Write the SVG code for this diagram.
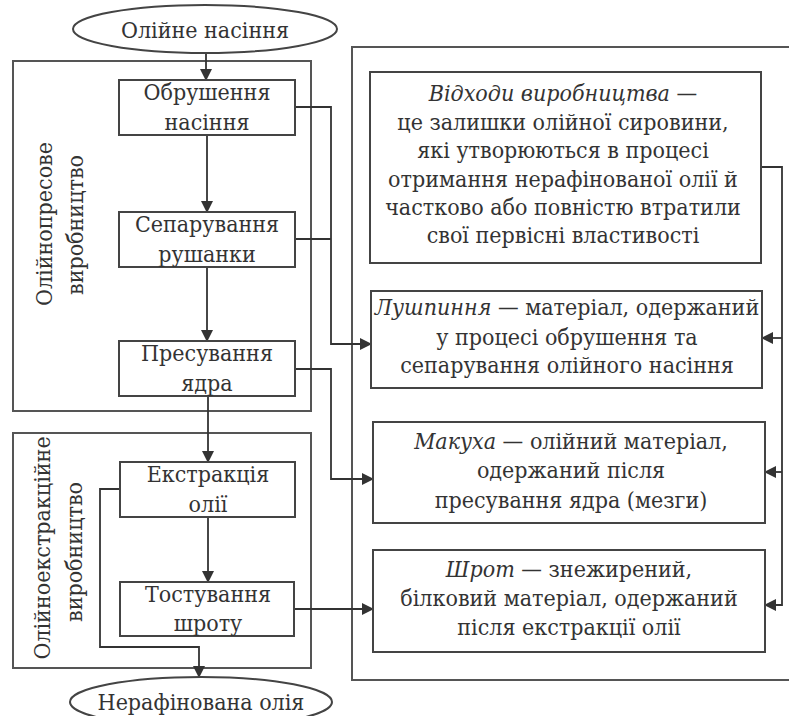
<svg xmlns="http://www.w3.org/2000/svg" width="789" height="716" viewBox="0 0 789 716">
<defs>
<marker id="arr" markerWidth="12" markerHeight="12" refX="11" refY="6" orient="auto" markerUnits="userSpaceOnUse">
<path d="M0,0 L12,6 L0,12 Z" fill="#333"/>
</marker>
<style>
.box{fill:none;stroke:#444;stroke-width:2}
.frame{fill:none;stroke:#555;stroke-width:2}
.ln{fill:none;stroke:#333;stroke-width:1.8}
.t{font-family:'DejaVu Serif Condensed','DejaVu Serif',serif;font-stretch:condensed;font-size:23px;fill:#333;text-anchor:middle}
.i{font-style:italic}
</style>
</defs>
<rect width="789" height="716" fill="#fff"/>
<g id="frame-press">
<rect class="frame" x="13" y="61" width="298" height="350"/>
<text class="t" transform="translate(52,224) rotate(-90)">Олійнопресове</text>
<text class="t" transform="translate(83,225) rotate(-90)">виробництво</text>
</g>
<g id="frame-extract">
<rect class="frame" x="13" y="433" width="298" height="235"/>
<text class="t" transform="translate(50,548) rotate(-90)">Олійноекстракційне</text>
<text class="t" transform="translate(82,552) rotate(-90)">виробництво</text>
</g>
<g id="frame-waste">
<rect class="frame" x="352" y="47" width="450" height="633"/>
</g>

<g id="connectors">
<line class="ln" x1="206" y1="53" x2="206" y2="80" marker-end="url(#arr)"/>
<line class="ln" x1="207" y1="135" x2="207" y2="212" marker-end="url(#arr)"/>
<line class="ln" x1="207" y1="267" x2="207" y2="341" marker-end="url(#arr)"/>
<line class="ln" x1="208" y1="396" x2="208" y2="462" marker-end="url(#arr)"/>
<line class="ln" x1="208" y1="517" x2="208" y2="582" marker-end="url(#arr)"/>
<polyline class="ln" points="295,107 331,107 331,344 371,344" marker-end="url(#arr)"/>
<line class="ln" x1="295" y1="239" x2="331" y2="239"/>
<polyline class="ln" points="295,369 331,369 331,479 373,479" marker-end="url(#arr)"/>
<line class="ln" x1="295" y1="609" x2="373" y2="609" marker-end="url(#arr)"/>
<polyline class="ln" points="120,489 100,489 100,647 199,647 199,677" marker-end="url(#arr)"/>
<polyline class="ln" points="761,167 782,167 782,605 765,605" marker-end="url(#arr)"/>
<line class="ln" x1="782" y1="338" x2="762" y2="338" marker-end="url(#arr)"/>
<line class="ln" x1="782" y1="472" x2="765" y2="472" marker-end="url(#arr)"/>
</g>

<g id="start">
<ellipse class="box" cx="205" cy="29" rx="132" ry="24"/>
<text class="t" x="205" y="38">Олійне насіння</text>
</g>
<g id="crushing">
<rect class="box" x="119" y="80" width="176" height="55"/>
<text class="t" x="207" y="100">Обрушення</text>
<text class="t" x="207" y="130">насіння</text>
</g>
<g id="separation">
<rect class="box" x="119" y="212" width="176" height="55"/>
<text class="t" x="207" y="232">Сепарування</text>
<text class="t" x="207" y="262">рушанки</text>
</g>
<g id="pressing">
<rect class="box" x="119" y="341" width="176" height="55"/>
<text class="t" x="207" y="361">Пресування</text>
<text class="t" x="207" y="391">ядра</text>
</g>
<g id="extraction">
<rect class="box" x="120" y="462" width="175" height="55"/>
<text class="t" x="208" y="482">Екстракція</text>
<text class="t" x="208" y="512">олії</text>
</g>
<g id="toasting">
<rect class="box" x="120" y="582" width="174" height="54"/>
<text class="t" x="208" y="602">Тостування</text>
<text class="t" x="208" y="631">шроту</text>
</g>
<g id="end">
<ellipse class="box" cx="201" cy="702" rx="131" ry="25"/>
<text class="t" x="201" y="710">Нерафінована олія</text>
</g>

<g id="waste">
<rect class="box" x="370" y="72" width="391" height="191"/>
<text class="t" x="563" y="101"><tspan class="i">Відходи виробництва</tspan> —</text>
<text class="t" x="563" y="130">це залишки олійної сировини,</text>
<text class="t" x="563" y="158">які утворюються в процесі</text>
<text class="t" x="563" y="187">отримання нерафінованої олії й</text>
<text class="t" x="563" y="215">частково або повністю втратили</text>
<text class="t" x="563" y="243">свої первісні властивості</text>
</g>
<g id="husk">
<rect class="box" x="371" y="291" width="391" height="97"/>
<text class="t" x="567" y="315"><tspan class="i">Лушпиння</tspan> — матеріал, одержаний</text>
<text class="t" x="567" y="345">у процесі обрушення та</text>
<text class="t" x="567" y="373">сепарування олійного насіння</text>
</g>
<g id="cake">
<rect class="box" x="373" y="422" width="392" height="101"/>
<text class="t" x="571" y="449"><tspan class="i">Макуха</tspan> — олійний матеріал,</text>
<text class="t" x="571" y="478">одержаний після</text>
<text class="t" x="571" y="508">пресування ядра (мезги)</text>
</g>
<g id="meal">
<rect class="box" x="373" y="550" width="392" height="102"/>
<text class="t" x="569" y="577"><tspan class="i">Шрот</tspan> — знежирений,</text>
<text class="t" x="569" y="606">білковий матеріал, одержаний</text>
<text class="t" x="569" y="635">після екстракції олії</text>
</g>
</svg>
